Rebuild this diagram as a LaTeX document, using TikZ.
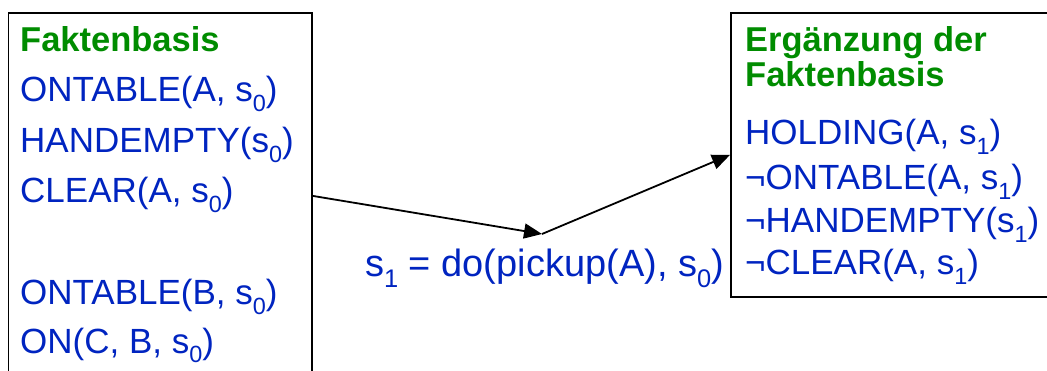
\documentclass[tikz,border=0pt]{standalone}
\usepackage{fontspec}
\setmainfont{Liberation Sans}
\usetikzlibrary{arrows.meta}
\definecolor{itemblue}{RGB}{0,36,192}
\definecolor{headgreen}{RGB}{0,140,0}
\newcommand\lowidx[1]{\raisebox{-0.27em}{\fontsize{0.67em}{0.67em}\selectfont #1}}
\begin{document}
\begin{tikzpicture}[x=1pt,y=-1pt,
  boxnode/.style={draw=black, line width=1.8pt, inner sep=0pt, anchor=north west},
  itemtext/.style={text=itemblue, font=\fontsize{35}{40}\selectfont, anchor=base west, inner sep=0pt},
  bigtext/.style={text=itemblue, font=\fontsize{38}{44}\selectfont, anchor=base west, inner sep=0pt},
  headtext/.style={text=headgreen, font=\fontsize{34.5}{40}\selectfont\bfseries, anchor=base west, inner sep=0pt},
  conn/.style={line width=1.8pt, -{Triangle[length=18pt,width=15pt]}}]
\useasboundingbox (0,0) rectangle (1047,371);
\clip (0,0) rectangle (1047,371);
% boxes
\node[boxnode, minimum width=303.5pt, minimum height=366pt] (L) at (7.5,12) {};
\node[boxnode, minimum width=330pt, minimum height=284pt] (R) at (730,12) {};
% left texts
\node[headtext] (l0) at (20,52) {Faktenbasis};
\node[itemtext] (l1) at (20,102) {ONTABLE(A, s\lowidx{0})};
\node[itemtext] (l2) at (20,153) {HANDEMPTY(s\lowidx{0})};
\node[itemtext] (l3) at (20,203) {CLEAR(A, s\lowidx{0})};
\node[itemtext] (l4) at (20,305) {ONTABLE(B, s\lowidx{0})};
\node[itemtext] (l5) at (20,353) {ON(C, B, s\lowidx{0})};
% right texts
\node[headtext] (r0) at (745,52) {Ergänzung der};
\node[headtext] (r1) at (745,87) {Faktenbasis};
\node[itemtext] (r2) at (745,145) {HOLDING(A, s\lowidx{1})};
\node[itemtext] (r3) at (745,190) {¬ONTABLE(A, s\lowidx{1})};
\node[itemtext] (r4) at (745,233) {¬HANDEMPTY(s\lowidx{1})};
\node[itemtext] (r5) at (745,275) {¬CLEAR(A, s\lowidx{1})};
% middle label
\node[bigtext] (act) at (365,277) {s\lowidx{1} = do(pickup(A), s\lowidx{0})};
% connectors
\coordinate (M) at (542,234);
\draw[conn] (L.east) -- (M);
\draw[conn] (M) -- (R.west);
\end{tikzpicture}
\end{document}
